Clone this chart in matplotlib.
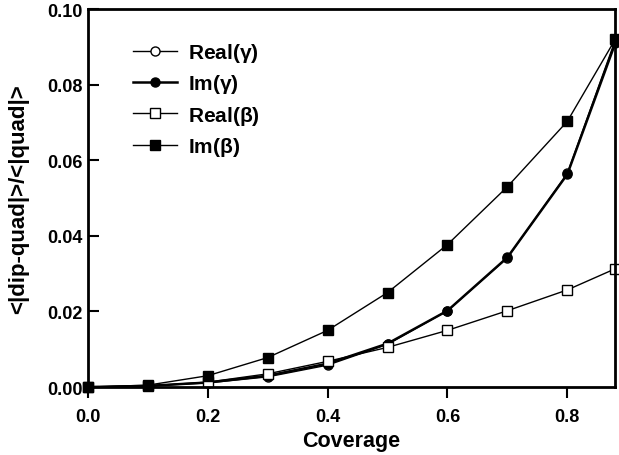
import numpy as np
import matplotlib.pyplot as plt

plt.rcParams['font.family'] = ['Liberation Sans', 'DejaVu Sans']
plt.rcParams['mathtext.default'] = 'regular'

# Coverage values
coverage = [0.0, 0.1, 0.2, 0.3, 0.4, 0.5, 0.6, 0.7, 0.8, 0.88]

# <|dip-quad|>/<|quad|> for each series
real_gamma = [0.0, 0.0003, 0.0011, 0.0027, 0.0058, 0.0113, 0.0202, 0.0342, 0.0565, 0.0918]
im_gamma = [0.0, 0.0003, 0.0012, 0.0030, 0.0062, 0.0115, 0.0202, 0.0343, 0.0563, 0.0910]
real_beta = [0.0, 0.0003, 0.0013, 0.0035, 0.0068, 0.0105, 0.0150, 0.0202, 0.0257, 0.0313]
im_beta = [0.0, 0.0005, 0.0030, 0.0078, 0.0150, 0.0250, 0.0377, 0.0530, 0.0703, 0.0920]

fig = plt.figure(figsize=(6.19, 4.56), dpi=100)
ax = fig.add_axes([0.142, 0.149, 0.852, 0.829])

ax.plot(coverage, real_gamma, '-o', color='black', mfc='white', mec='black',
        ms=6.5, lw=1.0, label=r'Real($\gamma$)', clip_on=False)
ax.plot(coverage, im_gamma, '-o', color='black', ms=6.5, lw=1.8, label=r'Im($\gamma$)',
        clip_on=False)
ax.plot(coverage, real_beta, '-s', color='black', mfc='white', mec='black',
        ms=7, lw=1.0, label=r'Real($\beta$)', clip_on=False)
ax.plot(coverage, im_beta, '-s', color='black', ms=7, lw=1.0, label=r'Im($\beta$)',
        clip_on=False)

ax.set_xlim(0, 0.88)
ax.set_ylim(0, 0.10)
ax.set_xticks([0.0, 0.2, 0.4, 0.6, 0.8])
ax.set_xticklabels(['0.0', '0.2', '0.4', '0.6', '0.8'])
ax.set_yticks([0.0, 0.02, 0.04, 0.06, 0.08, 0.10])
ax.set_yticklabels(['0.00', '0.02', '0.04', '0.06', '0.08', '0.10'])
ax.tick_params(axis='x', direction='out', length=8, width=1.5, labelsize=13, pad=7)
ax.tick_params(axis='y', direction='in', length=8, width=1.5, labelsize=13, pad=4)
for lab in ax.get_xticklabels() + ax.get_yticklabels():
    lab.set_fontweight('bold')
for sp in ax.spines.values():
    sp.set_linewidth(2)

ax.set_xlabel('Coverage', fontsize=15.5, fontweight='bold', labelpad=4)
ax.set_ylabel('<|dip-quad|>/<|quad|>', fontsize=16, fontweight='bold', labelpad=13)

leg = ax.legend(loc='upper left', bbox_to_anchor=(0.05, 0.965), frameon=False,
                handlelength=2.1, handletextpad=0.55, labelspacing=0.4,
                prop={'size': 15, 'weight': 'bold'})

fig.savefig('out.png', dpi=100)
